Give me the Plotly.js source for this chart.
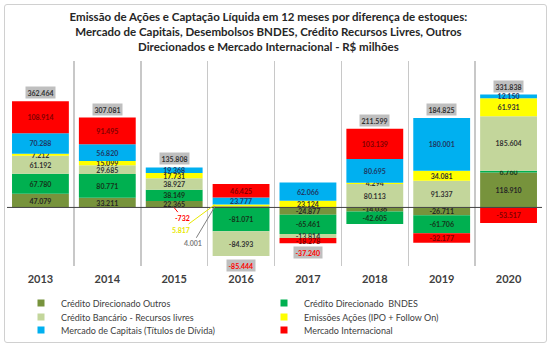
<!DOCTYPE html>
<html><head><meta charset="utf-8">
<script src="https://cdn.plot.ly/plotly-3.0.1.min.js"></script>
<style>
html,body{margin:0;padding:0;background:#fff}
#wrap{position:relative;width:550px;height:349px}
#chart{width:550px;height:349px}
#frame{position:absolute;left:4px;top:4px;width:541px;height:337px;border:1px solid #d0d0d0;border-radius:3px;pointer-events:none}
</style>
</head><body>
<div id="wrap"><div id="chart"></div><div id="frame"></div></div>
<script>
// ---- data (R$ milhões) ----
const years = ['2013','2014','2015','2016','2017','2018','2019','2020'];
const creditoDirecionadoOutros = [47079, 33211, 22365, 4001, -24877, -14036, -26711, 118910];
const creditoDirecionadoBNDES  = [67780, 80771, 38149, -81071, -65461, -42605, -61706, 6760];
const creditoBancarioLivres    = [61192, 29685, 38927, -84393, -13814, 80113, 91337, 185604];
const emissoesAcoes            = [7212, 15099, 17731, 5817, 23124, 4294, 34081, 61931];
const mercadoCapitais          = [70288, 56820, 19368, 23777, 62066, 80695, 180001, 12150];
const mercadoInternacional     = [108914, 91495, -732, 46425, -18278, 103139, -32177, -53517];
const totals                   = [362464, 307081, 135808, -85444, -37240, 211599, 184825, 331838];
const seriesNames = ['Crédito Direcionado Outros','Crédito Direcionado  BNDES','Crédito Bancário - Recursos livres','Emissões Ações (IPO + Follow On)','Mercado de Capitais (Títulos de Dívida)','Mercado Internacional'];
const chartTitle = 'Emissão de Ações e Captação Líquida em 12 meses por diferença de estoques:<br>Mercado de Capitais, Desembolsos BNDES, Crédito Recursos Livres, Outros<br>Direcionados e Mercado Internacional - R$ milhões';

// ---- styles ----
const seriesValues = [creditoDirecionadoOutros, creditoDirecionadoBNDES, creditoBancarioLivres, emissoesAcoes, mercadoCapitais, mercadoInternacional];
const colors = ['#77933C','#00B050','#C3D69B','#FFFF00','#00B0F0','#FF0000'];
const textColors = ['#262626','#14361a','#333333','#333333','#1F3864','#7F0000'];
const legendIds = ['legend','legend','legend2','legend2','legend3','legend3'];
// points labelled outside the bar with a leader line: [series, year, ax, ay, xshift, color]
const callouts = [
  [5, '2015', 8, 10, 0, '#FF0000'],
  [3, '2016', -34, 25, -26, '#E8E800'],
  [0, '2016', -22, 37, -26, '#7F7F7F']
];
const FONT = 'Lato, Carlito, "Open Sans", sans-serif';

function fmt(v){
  const s = Math.abs(Math.round(v)).toString().replace(/\B(?=(\d{3})+(?!\d))/g,'.');
  return (v<0?'-':'') + s;
}
function isCallout(s, y){ return callouts.some(c => c[0]===s && c[1]===y); }

const traces = seriesValues.map((vals, s) => ({
  type:'bar', name: seriesNames[s], x: years, y: vals, showlegend:false,
  marker:{color: colors[s], line:{width:0}},
  text: vals.map((v,i) => isCallout(s, years[i]) ? '' : fmt(v)),
  textposition:'inside', insidetextanchor:'middle', textangle:0, constraintext:'none',
  textfont:{family:FONT, size:7, weight:'bold', color: textColors[s]},
  hoverinfo:'skip', cliponaxis:false
}));
// legend entries (small square keys, as in the reference)
seriesNames.forEach((nm, s) => traces.push({
  type:'scatter', mode:'markers', name: nm, x:[null], y:[null], legend: legendIds[s],
  marker:{symbol:'square', size:7, color: colors[s]}, hoverinfo:'skip'
}));

const annotations = [];
years.forEach((yr, i) => {
  let pos = 0, neg = 0;
  seriesValues.forEach(v => { if (v[i] >= 0) pos += v[i]; else neg += v[i]; });
  const total = totals[i];
  annotations.push({
    x: i, y: total >= 0 ? pos : neg, xref:'x', yref:'y',
    text: fmt(total), showarrow:false,
    yanchor: total >= 0 ? 'bottom' : 'top', yshift: total >= 0 ? 2 : -3,
    bgcolor:'#BFBFBF', borderpad:1.5,
    font:{family:FONT, size:7, weight:'bold', color: total >= 0 ? '#333333' : '#FF0000'}
  });
});
callouts.forEach(c => {
  const s = c[0], i = years.indexOf(c[1]);
  let base = 0;
  for (let k = 0; k < s; k++) { const v = seriesValues[k][i]; if ((v >= 0) === (seriesValues[s][i] >= 0)) base += v; }
  annotations.push({
    x: i, y: base + seriesValues[s][i], xref:'x', yref:'y',
    text: fmt(seriesValues[s][i]), showarrow:true, arrowhead:0, arrowwidth:1, arrowcolor:c[5],
    ax:c[2], ay:c[3], xshift:c[4],
    font:{family:FONT, size:7, weight:'bold', color:c[5]}
  });
});

const legendBase = {
  orientation:'h', xref:'container', yref:'container', x: 21/550, xanchor:'left', yanchor:'middle',
  entrywidth:198, entrywidthmode:'pixels', traceorder:'normal', bgcolor:'rgba(0,0,0,0)',
  font:{family:FONT, size:9, color:'#404040'}, itemclick:false, itemdoubleclick:false
};

const layout = {
  width:550, height:349,
  margin:{l:7, r:8, t:61, b:83},
  paper_bgcolor:'#ffffff', plot_bgcolor:'#ffffff',
  barmode:'relative', bargap:0.15,
  separators:',.',
  font:{family:FONT, color:'#404040'},
  title:{text: chartTitle, font:{family:FONT, size:11.5, weight:'bold', color:'#262626'},
         x:0.488, xanchor:'center', xref:'container', y:0.94, yanchor:'top', yref:'container'},
  xaxis:{type:'category', tickson:'boundaries', showgrid:true, gridcolor:'#C8C8C8', gridwidth:1.5,
         ticks:'', showline:false, zeroline:false, ticklabelstandoff:5, range:[-0.5, 7.5],
         tickfont:{family:FONT, size:11, weight:'bold', color:'#404040'}, fixedrange:true},
  yaxis:{range:[-200000, 500000], showticklabels:false, showgrid:false, zeroline:false, fixedrange:true},
  shapes:[{type:'line', xref:'paper', x0:0, x1:1, yref:'y', y0:0, y1:0, line:{color:'#404040', width:1}, layer:'above'}],
  legend: Object.assign({}, legendBase, {y: 1 - 303/349}),
  legend2: Object.assign({}, legendBase, {y: 1 - 317/349}),
  legend3: Object.assign({}, legendBase, {y: 1 - 330/349}),
  uniformtext:{mode:'show', minsize:7},
  annotations: annotations,
  showlegend:true
};

Plotly.newPlot('chart', traces, layout, {displayModeBar:false, staticPlot:true});
</script>
</body></html>
